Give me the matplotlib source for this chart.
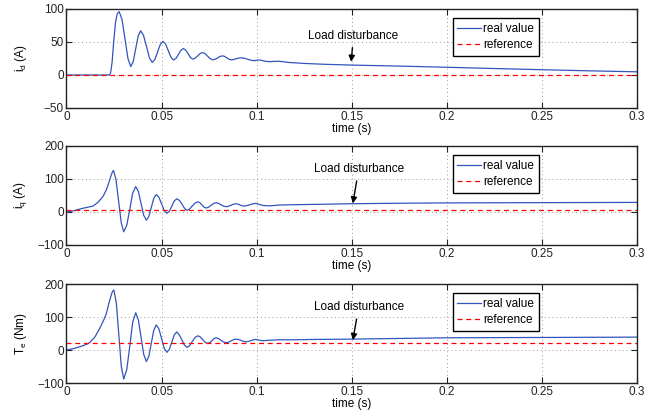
import numpy as np
import matplotlib
matplotlib.use('Agg')
import matplotlib.pyplot as plt

plt.rcParams['font.family'] = ['Liberation Sans', 'DejaVu Sans']
plt.rcParams['mathtext.fontset'] = 'custom'
plt.rcParams['mathtext.rm'] = 'Liberation Sans'
plt.rcParams['mathtext.it'] = 'Liberation Sans:italic'

# ---- dados ----
# i_d (A)
t_id = [0, 0.0225, 0.0232, 0.0240, 0.0248, 0.0258, 0.0267, 0.0277,
        0.0292, 0.0308, 0.0323, 0.0338, 0.0351, 0.0364, 0.0377, 0.0390,
        0.0405, 0.0421, 0.0436, 0.0451, 0.0465, 0.0479, 0.0493, 0.0507,
        0.0521, 0.0535, 0.0549, 0.0563, 0.0576, 0.0589, 0.0602, 0.0615,
        0.0627, 0.0640, 0.0652, 0.0664, 0.0677, 0.0690, 0.0703, 0.0716,
        0.0729, 0.0742, 0.0756, 0.0769, 0.0782, 0.0795, 0.0808, 0.0821,
        0.0832, 0.0843, 0.0854, 0.0865, 0.0878, 0.0891, 0.0904, 0.0917,
        0.0935, 0.0952, 0.0970, 0.0987, 0.1000, 0.1012, 0.1025, 0.1040,
        0.1066, 0.1090, 0.1118, 0.1170, 0.125, 0.135, 0.15, 0.175, 0.2,
        0.225, 0.25, 0.275, 0.3]
id_real = [0, 0, 3, 20, 50, 80, 93, 96,
           84, 54, 25, 12.6, 20.5, 40, 59, 67,
           60, 43, 26, 19, 23.7, 35, 46, 51,
           47, 37, 27, 22.7, 25.2, 31.4, 37.5, 40,
           37.7, 32, 26.3, 24, 25.5, 29, 32.5, 34,
           32.4, 28.5, 24.6, 23, 23.9, 26, 28.1, 29,
           28.1, 26, 23.9, 23, 23.4, 24.5, 25.6, 26,
           25.4, 23.9, 22.3, 21.7, 22.3, 22.8, 22.3, 21,
           20.2, 20.6, 20.8, 19, 17.5, 16.3, 15, 13.5, 11.7,
           9.8, 8, 6.3, 4.8]
id_ref = 0

# i_q (A)
t_iq = [0, 0.004, 0.0071, 0.010, 0.014, 0.0167, 0.0193, 0.0210, 0.0222,
        0.0233, 0.0241, 0.0247, 0.0260, 0.0274, 0.0288, 0.0301,
        0.0317, 0.0333, 0.0348, 0.0364, 0.0378, 0.0392, 0.0406, 0.0420,
        0.0433, 0.0446, 0.0459, 0.0472, 0.0486, 0.0500, 0.0514, 0.0528,
        0.0541, 0.0554, 0.0567, 0.0580, 0.0594, 0.0608, 0.0621, 0.0633,
        0.0647, 0.0661, 0.0676, 0.0690, 0.0701, 0.0712, 0.0723, 0.0734,
        0.0747, 0.0760, 0.0773, 0.0786, 0.0799, 0.0812, 0.0826, 0.0839,
        0.0852, 0.0865, 0.0878, 0.0891, 0.0901, 0.0911, 0.0922, 0.0932,
        0.0948, 0.0964, 0.0980, 0.0996, 0.1013, 0.1030, 0.1066, 0.1118,
        0.12, 0.13, 0.14, 0.15, 0.175, 0.2, 0.25, 0.3]
iq_real = [-1, 4, 9, 13, 18, 30, 48, 68, 88,
           108, 121, 126, 99, 33, -33, -60,
           -40, 8.5, 57, 77, 62, 26, -10, -25,
           -13.6, 14, 41.6, 53, 44.7, 24.5, 4.3, -4,
           2.4, 18, 33.6, 40, 35, 23, 11, 5,
           8.8, 18, 27, 31, 28.2, 21.5, 14.8, 12,
           14.3, 20, 25.7, 28, 26.2, 22, 17.8, 16,
           17.3, 20.5, 23.7, 25, 24, 21.5, 19, 18,
           19.2, 22, 24.8, 26, 23, 20, 18.5, 21,
           22, 23, 24, 25, 26.5, 27.5, 28.3, 29]
iq_ref = 5

# T_e (Nm)
t_te = [0, 0.0035, 0.0071, 0.0105, 0.0123, 0.0150, 0.0175, 0.0195, 0.0210,
        0.0222, 0.0232, 0.0242, 0.0249, 0.0262, 0.0275, 0.0288, 0.0301,
        0.0317, 0.0333, 0.0348, 0.0364, 0.0378, 0.0392, 0.0406, 0.0420,
        0.0433, 0.0446, 0.0459, 0.0472, 0.0486, 0.0500, 0.0514, 0.0528,
        0.0541, 0.0554, 0.0567, 0.0580, 0.0593, 0.0606, 0.0620, 0.0633,
        0.0647, 0.0661, 0.0676, 0.0690, 0.0703, 0.0716, 0.0730, 0.0743,
        0.0754, 0.0765, 0.0775, 0.0786, 0.0799, 0.0812, 0.0826, 0.0839,
        0.0852, 0.0865, 0.0878, 0.0891, 0.0904, 0.0918, 0.0931, 0.0944,
        0.0957, 0.0970, 0.0983, 0.0996, 0.1013, 0.1030, 0.1066, 0.1118,
        0.12, 0.13, 0.14, 0.15, 0.175, 0.2, 0.25, 0.3]
te_real = [0, 4, 10, 17, 23, 40, 66, 90, 111,
           140, 160, 178, 182, 143, 47, -49, -88,
           -59, 12.5, 84, 113, 91, 39, -13, -35,
           -19, 20.5, 60, 76, 64, 34.5, 5, -7,
           2, 24, 46, 55, 46, 31.5, 15, 8,
           13, 25.5, 38, 43, 40, 31.5, 23, 20,
           22.5, 28.5, 34.5, 37, 34.8, 29.5, 24.2, 22,
           23.6, 27.5, 31.4, 33, 32, 29, 26, 25,
           26, 28.5, 31, 32, 30, 28, 29.5, 31,
           31, 32, 32.5, 33, 35, 37, 38, 39]
te_ref = 20

# ---- painel ----
blue = '#3355bb'
fig = plt.figure(figsize=(6.61, 4.16), dpi=100)

paineis = [
    (t_id, id_real, id_ref, r'i$_\mathrm{d}$ (A)', [-50, 100], [-50, 0, 50, 100],
     0.7404, (0.1509, 59), (0.1497, 20)),
    (t_iq, iq_real, iq_ref, r'i$_\mathrm{q}$ (A)', [-100, 200], [-100, 0, 100, 200],
     0.4111, (0.1536, 129), (0.1506, 26)),
    (t_te, te_real, te_ref, r'T$_\mathrm{e}$ (Nm)', [-100, 200], [-100, 0, 100, 200],
     0.0793, (0.1536, 129), (0.1506, 30)),
]

for t, real, ref, ylab, ylim, yticks, bottom, txt_pos, tip in paineis:
    ax = fig.add_axes([0.1006, bottom, 0.8631, 0.238])
    ax.plot(t, real, color=blue, linewidth=0.9, label='real value')
    ax.axhline(ref, color='red', linestyle=(0, (4, 3)), linewidth=0.9, label='reference')
    ax.set_xlim(0, 0.3)
    ax.set_ylim(ylim)
    ax.set_yticks(yticks)
    ax.set_xticks([0, 0.05, 0.1, 0.15, 0.2, 0.25, 0.3])
    ax.set_xticklabels(['0', '0.05', '0.1', '0.15', '0.2', '0.25', '0.3'])
    ax.grid(True, linestyle=(0, (1, 3)), color='#999999', linewidth=0.7)
    ax.tick_params(direction='in', top=True, right=True, length=4, labelsize=8.5,
                   pad=2, colors='#222222')
    for s in ax.spines.values():
        s.set_linewidth(1.0)
        s.set_color('#222222')
    ax.set_xlabel('time (s)', fontsize=8.5, labelpad=0)
    ax.set_ylabel(ylab, fontsize=8.5)
    ax.yaxis.set_label_coords(-0.066, 0.5)
    ax.annotate('Load disturbance', xy=tip, xytext=txt_pos,
                ha='center', va='center', fontsize=8.5,
                arrowprops=dict(arrowstyle='-|>', color='black', lw=1.0,
                                mutation_scale=9, shrinkA=2, shrinkB=0))
    leg = ax.legend(loc='upper right', bbox_to_anchor=(0.828, 0.905), fontsize=8.5,
                    fancybox=False, framealpha=1, edgecolor='black',
                    handlelength=2.0, handletextpad=0.2, borderpad=0.4,
                    labelspacing=0.35, borderaxespad=0)
    leg.get_frame().set_linewidth(1.0)

plt.savefig('out.png', dpi=100)
